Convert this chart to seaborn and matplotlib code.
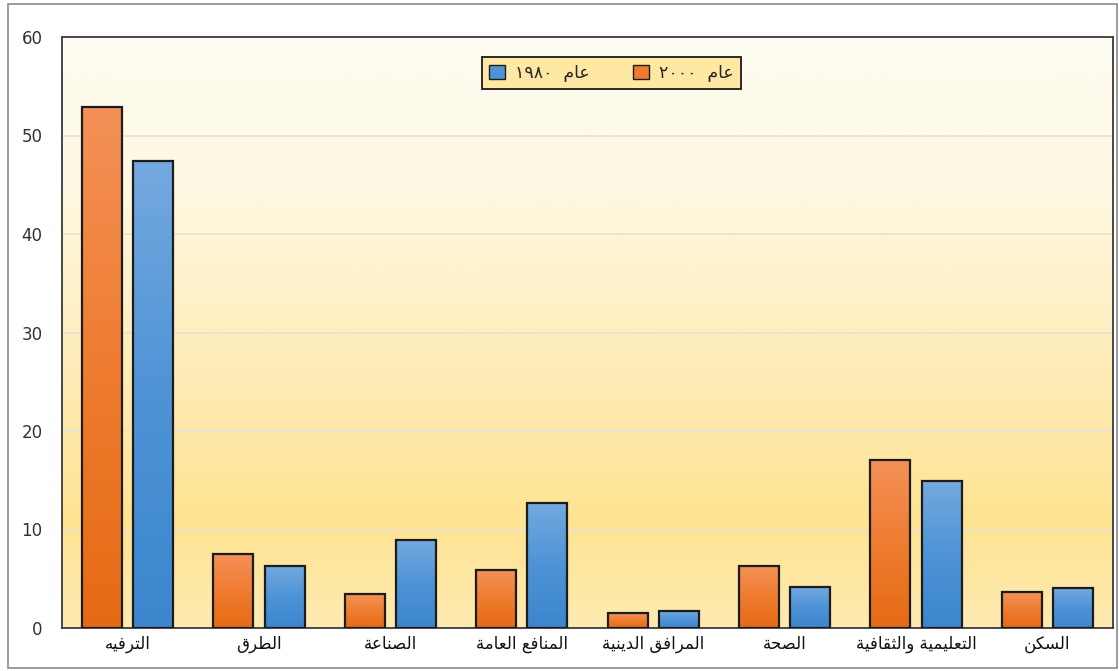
import numpy as np
import pandas as pd
import matplotlib
matplotlib.use('Agg')
import matplotlib.pyplot as plt
import seaborn as sns
from matplotlib.colors import LinearSegmentedColormap
from matplotlib.patches import Patch, Rectangle

# --- data ---
categories = ['الترفيه', 'الطرق', 'الصناعة', 'المنافع العامة', 'المرافق الدينية',
              'الصحة', 'التعليمية والثقافية', 'السكن']
values_2000 = [52.9, 7.5, 3.45, 5.9, 1.5, 6.3, 17.05, 3.65]
values_1980 = [47.4, 6.3, 8.9, 12.7, 1.7, 4.2, 14.9, 4.1]
years = ['2000', '1980']
year_labels = {'2000': '٢٠٠٠', '1980': '١٩٨٠'}
y_ticks = [0, 10, 20, 30, 40, 50, 60]

# --- minimal arabic shaping (matplotlib has no bidi / joining) ---
AR_FORMS = {'ا': 0xFE8D, 'ب': 0xFE8F, 'ة': 0xFE93, 'ت': 0xFE95, 'ث': 0xFE99,
            'ح': 0xFEA1, 'د': 0xFEA9, 'ر': 0xFEAD, 'س': 0xFEB1, 'ص': 0xFEB9,
            'ط': 0xFEC1, 'ع': 0xFEC9, 'ف': 0xFED1, 'ق': 0xFED5, 'ك': 0xFED9,
            'ل': 0xFEDD, 'م': 0xFEE1, 'ن': 0xFEE5, 'ه': 0xFEE9, 'و': 0xFEED,
            'ي': 0xFEF1}
RIGHT_ONLY = set('اةدرو')


def shape(text):
    out = []
    for i, ch in enumerate(text):
        if ch not in AR_FORMS:
            out.append(ch)
            continue
        prev = text[i - 1] if i > 0 else ''
        nxt = text[i + 1] if i + 1 < len(text) else ''
        join_prev = prev in AR_FORMS and prev not in RIGHT_ONLY
        join_next = nxt in AR_FORMS and ch not in RIGHT_ONLY
        base = AR_FORMS[ch]
        if join_prev and join_next:
            out.append(chr(base + 3))
        elif join_prev:
            out.append(chr(base + 1))
        elif join_next:
            out.append(chr(base + 2))
        else:
            out.append(chr(base))
    return ''.join(reversed(out))


df = pd.DataFrame({
    'category': categories * 2,
    'year': ['2000'] * len(categories) + ['1980'] * len(categories),
    'value': values_2000 + values_1980,
})

sns.set_theme(style='white')
plt.rcParams['font.family'] = ['DejaVu Sans']

orange = '#EE7A2E'
blue = '#4F93D6'
fig = plt.figure(figsize=(11.19, 6.71), dpi=100)
ax = fig.add_axes([62 / 1119, 43 / 671, 1051 / 1119, 591 / 671])

# outer frame of the chart area
fig.patches.append(Rectangle((8 / 1119, 3 / 671), 1109 / 1119, 664 / 671,
                             transform=fig.transFigure, fill=False,
                             edgecolor='#8a8a8a', linewidth=1.2))

sns.barplot(data=df, x='category', y='value', hue='year', hue_order=years,
            order=categories, palette={'2000': orange, '1980': blue},
            width=0.78, gap=0.22, edgecolor='#1c1c1c', linewidth=1.6,
            legend=False, ax=ax, zorder=3)

# background gradient
bg_cmap = LinearSegmentedColormap.from_list(
    'bg', [(0.0, '#FEEBB2'), (0.18, '#FFE391'), (0.45, '#FEEDBA'),
           (0.75, '#FEF8E2'), (1.0, '#FEFDF3')])
grad = np.linspace(0, 1, 256).reshape(-1, 1)
ax.imshow(grad, extent=[-0.5, 7.5, 0, 60], origin='lower', aspect='auto',
          cmap=bg_cmap, zorder=0)

# gradient fill on bars
cmaps = {
    'o': LinearSegmentedColormap.from_list('o', ['#E56A14', '#EF7C30', '#F49158']),
    'b': LinearSegmentedColormap.from_list('b', ['#3C86CE', '#4E93D6', '#74A9DF']),
}
for p in list(ax.patches):
    fc = p.get_facecolor()
    key = 'o' if fc[0] > fc[2] else 'b'
    x, y, w, h = p.get_x(), p.get_y(), p.get_width(), p.get_height()
    im = ax.imshow(grad, extent=[x, x + w, y, y + h], origin='lower',
                   aspect='auto', cmap=cmaps[key], zorder=2.5)
    im.set_clip_path(p)
    p.set_facecolor('none')

ax.set_xlim(-0.5, 7.5)
ax.set_ylim(0, 60)
ax.set_yticks(y_ticks)
ax.set_yticklabels([str(t) for t in y_ticks], fontsize=12, color='#333333')
ax.set_xticks(range(len(categories)))
ax.set_xticklabels([shape(c) for c in categories], fontsize=12, color='#111111')
ax.tick_params(axis='y', length=0, pad=14)
ax.tick_params(axis='x', length=0, pad=5)
ax.set_xlabel('')
ax.set_ylabel('')

for t in y_ticks[1:-1]:
    ax.axhline(t, color='#EAE3CF', linewidth=1.3, zorder=1)

for s in ax.spines.values():
    s.set_color('#3a3a3a')
    s.set_linewidth(1.3)
    s.set_visible(True)

handles = [Patch(facecolor=blue, edgecolor='#1c1c1c', linewidth=1.0),
           Patch(facecolor=orange, edgecolor='#1c1c1c', linewidth=1.0)]
labels = [year_labels['1980'] + '  ' + shape('عام'),
          year_labels['2000'] + '  ' + shape('عام')]
leg = ax.legend(handles, labels, ncol=2, loc='center', bbox_to_anchor=(0.523, 0.939),
                frameon=True, fancybox=False, fontsize=12.5, handlelength=0.9,
                handleheight=0.9, handletextpad=0.6, columnspacing=2.5,
                borderpad=0.4, borderaxespad=0, facecolor='#FFE8A4', framealpha=1)
leg.get_frame().set_edgecolor('#1a1a1a')
leg.get_frame().set_linewidth(1.3)

fig.savefig('out.png', dpi=100, facecolor='white')
